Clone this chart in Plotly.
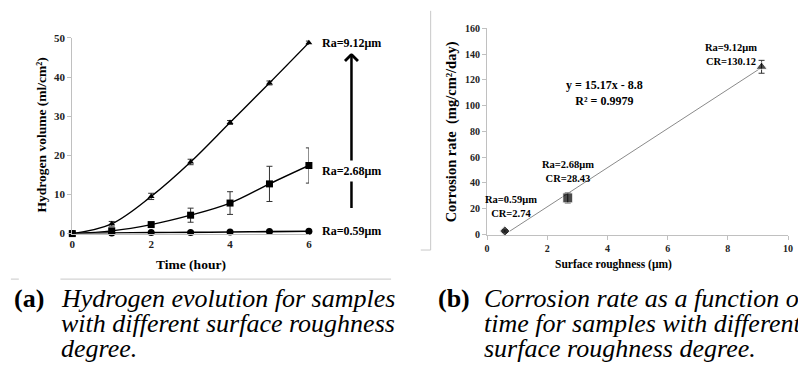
import plotly.graph_objects as go

# ---------------- data ----------------
time_h = [0, 1, 2, 3, 4, 5, 6]
h2_ra912 = [0, 2.5, 9.5, 18.3, 28.4, 38.5, 48.8]
h2_ra912_err = [0, 0.6, 0.8, 0.7, 0.5, 0.5, 0.4]
h2_ra268 = [0, 0.7, 2.3, 4.7, 7.8, 12.7, 17.4]
h2_ra268_err = [0, 0.4, 0.5, 1.8, 2.9, 4.5, 4.5]
h2_ra059 = [0, 0.15, 0.25, 0.3, 0.4, 0.5, 0.6]
h2_ra059_err = [0, 0.1, 0.1, 0.1, 0.1, 0.1, 0.1]
series_labels = ["Ra=9.12μm", "Ra=2.68μm", "Ra=0.59μm"]

roughness = [0.59, 2.68, 9.12]
corrosion = [2.74, 28.43, 130.12]
corrosion_err = [0.8, 4.0, 5.0]
point_labels = ["Ra=0.59μm<br>CR=2.74", "Ra=2.68μm<br>CR=28.43", "Ra=9.12μm<br>CR=130.12"]
fit_slope = 15.17
fit_intercept = -8.8
fit_r2 = 0.9979

left_xticks = [0, 2, 4, 6]
left_yticks = [0, 10, 20, 30, 40, 50]
right_xticks = [0, 2, 4, 6, 8, 10]
right_yticks = [0, 20, 40, 60, 80, 100, 120, 140, 160]

caption_a = ["Hydrogen evolution for samples", "with different surface roughness", "degree."]
caption_b = ["Corrosion rate as a function of", "time for samples with different", "surface roughness degree."]

W, H = 798, 380
def px(x):
    return x / W
def py(y):
    return 1 - y / H

SERIF = "Times New Roman, Liberation Serif, DejaVu Serif, serif"

fig = go.Figure()

err_style = dict(type="data", visible=True, color="#333", thickness=1, width=3)

# Left chart series
fig.add_trace(go.Scatter(x=time_h, y=h2_ra059, mode="lines+markers", line=dict(color="black", width=1.6, shape="spline"),
                         marker=dict(symbol="circle", size=7, color="black"),
                         error_y=dict(array=h2_ra059_err, **err_style), xaxis="x", yaxis="y", cliponaxis=False))
fig.add_trace(go.Scatter(x=time_h, y=h2_ra268, mode="lines+markers", line=dict(color="black", width=1.4, shape="spline"),
                         marker=dict(symbol="square", size=7, color="black"),
                         error_y=dict(array=h2_ra268_err, **err_style), xaxis="x", yaxis="y", cliponaxis=False))
fig.add_trace(go.Scatter(x=time_h, y=h2_ra912, mode="lines+markers", line=dict(color="black", width=1.4, shape="spline"),
                         marker=dict(symbol="triangle-up", size=6, color="black"),
                         error_y=dict(array=h2_ra912_err, **err_style), xaxis="x", yaxis="y", cliponaxis=False))

# Right chart: trend line + points
fit_x = [roughness[0], roughness[-1]]
fit_y = [fit_slope * v + fit_intercept for v in fit_x]
fig.add_trace(go.Scatter(x=fit_x, y=fit_y, mode="lines", line=dict(color="#8a8a8a", width=1),
                         xaxis="x2", yaxis="y2"))
fig.add_trace(go.Scatter(x=roughness, y=corrosion, mode="markers",
                         marker=dict(symbol=["diamond", "square", "triangle-up"], size=[8, 10, 10], color="black"),
                         error_y=dict(array=corrosion_err, **err_style), xaxis="x2", yaxis="y2", cliponaxis=False))

tickfont_l = dict(family=SERIF, size=11, color="#222", weight="bold")
tickfont_r = dict(family=SERIF, size=10, color="#222", weight="bold")
axis_common = dict(showgrid=False, zeroline=False, showline=True, linecolor="#c0c0c0", linewidth=1,
                   ticks="outside", tickcolor="#c0c0c0", ticklen=4)

fig.update_layout(
    width=W, height=H, margin=dict(l=0, r=0, t=0, b=0),
    paper_bgcolor="white", plot_bgcolor="white", showlegend=False,
    font=dict(family=SERIF),
    xaxis=dict(domain=[px(70), px(309)], range=[0, 6], tickvals=left_xticks, tickfont=tickfont_l,
               anchor="y", **{**axis_common, "ticks": ""}),
    yaxis=dict(domain=[py(235), py(33)], range=[0, 50], tickvals=left_yticks, tickfont=tickfont_l,
               anchor="x", **axis_common),
    xaxis2=dict(domain=[px(489), px(793)], range=[0, 10], tickvals=right_xticks, tickfont=tickfont_r,
                anchor="y2", **axis_common),
    yaxis2=dict(domain=[py(236), py(23)], range=[0, 160], tickvals=right_yticks, tickfont=tickfont_r,
                anchor="x2", **axis_common),
)

ann = []
lab_font = dict(family=SERIF, size=12, color="black", weight="bold")
# arrow (drawn first so that the middle label covers it)
ann.append(dict(xref="paper", yref="paper", x=px(352), y=py(48), ax=0, ay=157, axref="pixel", ayref="pixel",
                text="", showarrow=True, arrowhead=4, arrowsize=1, arrowwidth=2.5, arrowcolor="black"))
left_series = [h2_ra912, h2_ra268, h2_ra059]
left_yshift = [0, -6, 0]
for lab, ser, ys in zip(series_labels, left_series, left_yshift):
    ann.append(dict(xref="x", yref="y", x=time_h[-1], y=ser[-1], text=lab, showarrow=False, xanchor="left",
                    yanchor="middle", xshift=9, yshift=ys, font=lab_font, bgcolor="white", borderpad=3))

def paper_text(x, y, text, font, **kw):
    d = dict(xref="paper", yref="paper", x=px(x), y=py(y), text=text, showarrow=False,
             xanchor="center", yanchor="middle", font=font)
    d.update(kw)
    return d

# axis titles left
ann.append(paper_text(190, 267, "Time (hour)", dict(family=SERIF, size=13.5, color="black", weight="bold")))
ann.append(paper_text(39, 133, "Hydrogen volume (ml/cm²)", dict(family=SERIF, size=13.5, color="black", weight="bold"),
                      textangle=-90))
# axis titles right
ann.append(paper_text(617, 267, "Surface roughness (μm)", dict(family=SERIF, size=11.5, color="black", weight="bold")))
ann.append(paper_text(453, 130, "Corrosion rate  (mg/cm²/day)", dict(family=SERIF, size=14.5, color="black", weight="bold"),
                      textangle=-90))

# right point labels
rlab_font = dict(family=SERIF, size=10.5, color="black", weight="bold")
r_shifts = [(6, 25), (0, 26), (-31, 12)]
for lab, xv, yv, (xs, ys) in zip(point_labels, roughness, corrosion, r_shifts):
    ann.append(dict(xref="x2", yref="y2", x=xv, y=yv, text=lab, showarrow=False, xanchor="center", yanchor="middle",
                    xshift=xs, yshift=ys, font=rlab_font))
ann.append(dict(xref="x2", yref="y2", x=3.9, y=110, xanchor="center", yanchor="middle",
                text=f"y = {fit_slope}x - {abs(fit_intercept)}<br>R² = {fit_r2}", showarrow=False,
                font=dict(family=SERIF, size=12, color="black", weight="bold")))

# captions
cap_y = [302, 328, 354]
cap_font = dict(family=SERIF, size=26, color="black")
ann.append(paper_text(9, cap_y[0], "<b>(a)</b>", cap_font, xanchor="left"))
for t, yy in zip(caption_a, cap_y):
    ann.append(paper_text(57, yy, f"<i>{t}</i>", cap_font, xanchor="left"))
ann.append(paper_text(437, cap_y[0], "<b>(b)</b>", cap_font, xanchor="left"))
for t, yy in zip(caption_b, cap_y):
    ann.append(paper_text(484, yy, f"<i>{t}</i>", cap_font, xanchor="left"))

fig.update_layout(annotations=ann)

# faint scan border lines
border = dict(color="#c8c8c8", width=1)
shapes = [
    dict(type="line", xref="paper", yref="paper", x0=px(58), x1=px(392), y0=py(282), y1=py(282), line=border),
    dict(type="line", xref="paper", yref="paper", x0=px(8), x1=px(16), y0=py(282), y1=py(282), line=border),
    dict(type="line", xref="paper", yref="paper", x0=px(432), x1=px(432), y0=py(5), y1=py(252), line=border),
    dict(type="line", xref="paper", yref="paper", x0=px(422), x1=px(432), y0=py(252), y1=py(252), line=border),
]
fig.update_layout(shapes=shapes)

fig.write_html("out.html")
